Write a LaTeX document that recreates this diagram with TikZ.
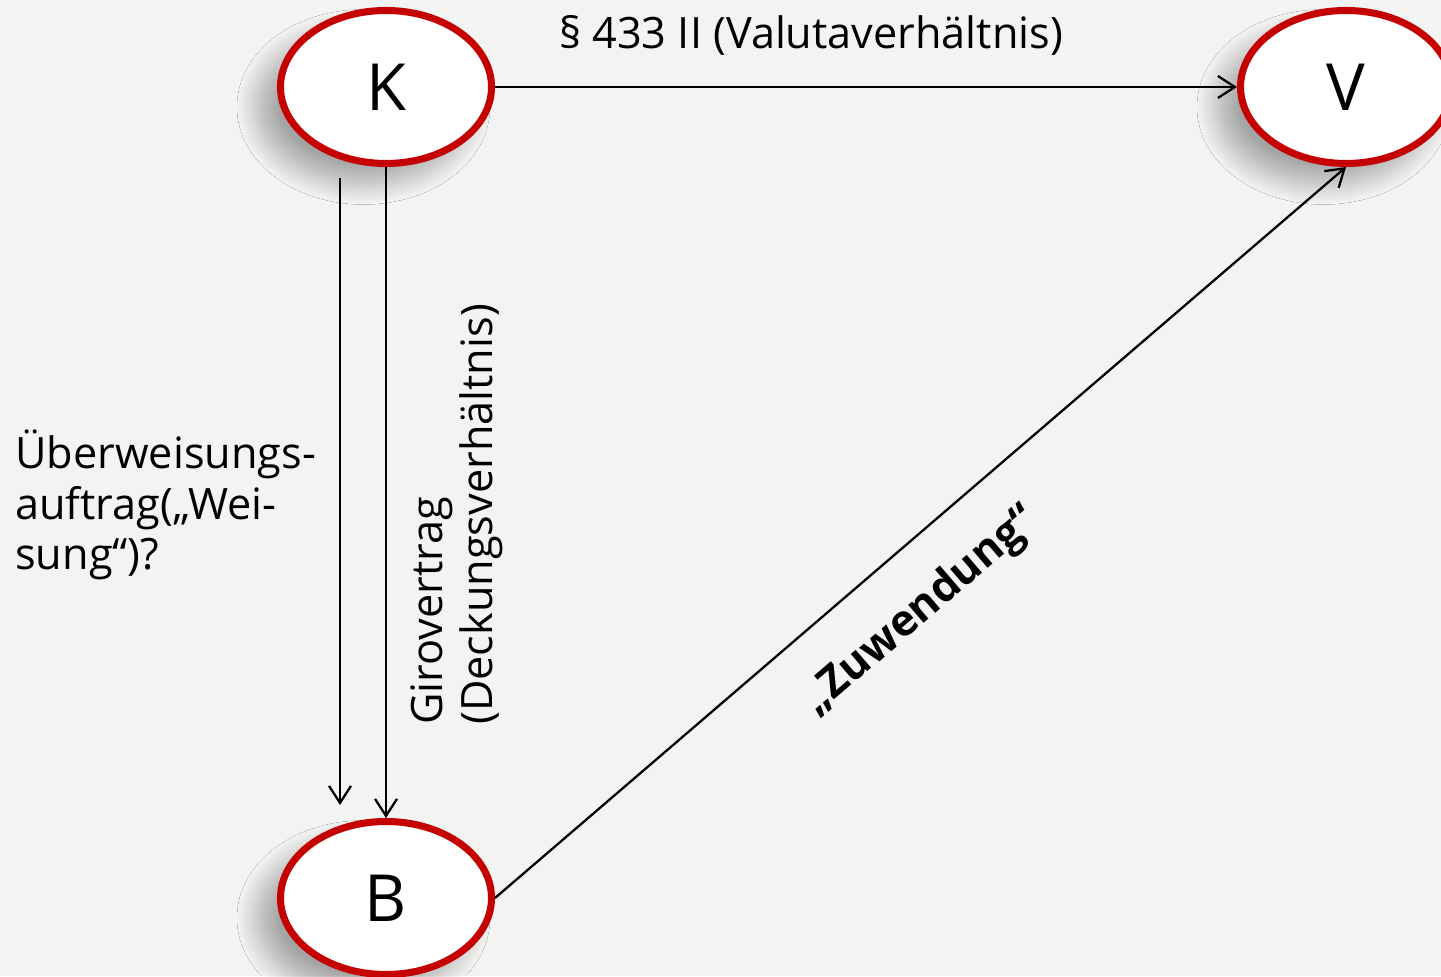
\documentclass[tikz,border=0pt]{standalone}
\usepackage{fontspec}
\setmainfont{Open Sans}
\usetikzlibrary{shapes.geometric, arrows.meta, shadows.blur}
\definecolor{bggray}{RGB}{243,243,242}
\definecolor{partyred}{RGB}{196,0,0}
\begin{document}
\begin{tikzpicture}
    	[party/.style={ellipse, draw=partyred, line width=4pt, fill=white, inner sep=0pt,
    	    minimum width=4.22cm, minimum height=3.06cm, font=\fontsize{37}{44}\selectfont,
    	    blur shadow={shadow xshift=-0.45cm, shadow yshift=-0.4cm, shadow blur radius=0.42cm,
    	        shadow blur steps=20, shadow opacity=32}},
    	 rel/.style={-{Straight Barb[length=3.4mm, width=4.4mm]}, line width=1.3pt},
    	 lbl/.style={font=\fontsize{24.6}{28.6}\selectfont, inner sep=0pt}]
    	
    	\fill[bggray] (0,0) rectangle (28.82,19.52);
    	\useasboundingbox (0,0) rectangle (28.82,19.52);
    	
    	\node[party] (k) at (7.72,17.78) {K};
    	\node[party] (v) at (26.92,17.78) {V};
    	\node[party] (b) at (7.72,1.56) {B};
    	
    	\coordinate (w1) at (6.8,15.96);
    	\coordinate (w2) at (6.8,3.42);
    	
    	\draw[rel] (k) -- (v);
    	\draw[rel] (k) -- (b);
    	\draw[rel] (w1) -- (w2);
    	\draw[rel] (b.east) -- (v.south);
    	
    	\node[lbl] (valuta) at (16.22,18.82) {§ 433 II (Valutaverhältnis)};
    	\node[lbl, anchor=west, align=left] (weisung) at (0.3,9.42) {Überweisungs-\\auftrag(„Wei-\\sung“)?};
    	\node[lbl, rotate=90, anchor=west, align=left] (giro) at (9.14,5.02) {Girovertrag\\(Deckungsverhältnis)};
    	\node[lbl, rotate=40.6, font=\fontsize{24.6}{28.6}\selectfont\bfseries] (zuw) at (18.42,7.3) {„Zuwendung“};
    \end{tikzpicture}
\end{document}
